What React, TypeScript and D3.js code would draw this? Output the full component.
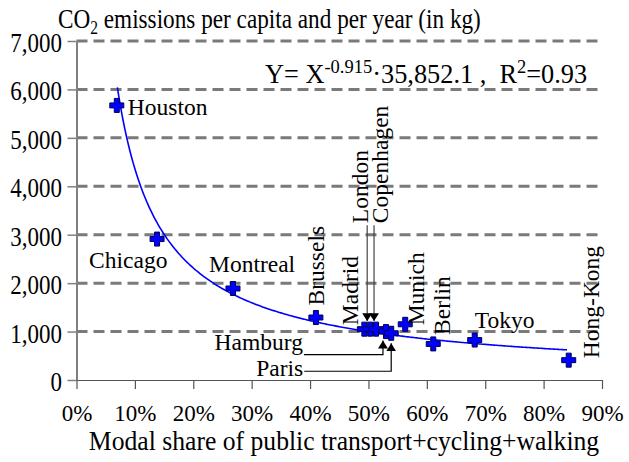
import { useEffect, useMemo, useRef } from "react";
import * as d3 from "d3";

const WIDTH = 629;
const HEIGHT = 462;
const MARGIN = { top: 41, right: 27, bottom: 82, left: 76.5 };
const FONT = "Liberation Serif";

// data
const cities = ["Houston", "Chicago", "Montreal", "Brussels", "Madrid", "London", "Copenhagen", "Hamburg", "Paris", "Munich", "Berlin", "Tokyo", "Hong-Kong"];
const modalShare = [6.9, 13.8, 26.8, 41, 49.3, 50.3, 51.3, 53, 53.9, 56.3, 61.1, 68.2, 84.3];
const emissions = [5670, 2910, 1890, 1290, 1050, 1050, 1050, 1000, 965, 1150, 745, 825, 410];

const yTicks = [0, 1000, 2000, 3000, 4000, 5000, 6000, 7000];
const xTicks = [0, 10, 20, 30, 40, 50, 60, 70, 80, 90];

// trend line given on the chart: Y = X^-0.915 * 35852.1
const FIT_COEF = 35852.1;
const FIT_EXP = -0.915;
const FIT_FROM = 7;
const FIT_TO = 84;

// where each label sits, relative to its point
type LabelPos = { dx: number; dy: number; rot?: boolean; anchor?: string };
const labelPos: Record<string, LabelPos> = {
    Houston: { dx: 11, dy: 10 },
    Chicago: { dx: -68, dy: 29 },
    Montreal: { dx: -24, dy: -16 },
    Brussels: { dx: 8, dy: -12, rot: true },
    Madrid: { dx: -6, dy: -4, rot: true },
    London: { dx: -2, dy: -106, rot: true },
    Copenhagen: { dx: 12, dy: -106, rot: true },
    Hamburg: { dx: -83, dy: 18, anchor: "end" },
    Paris: { dx: -88, dy: 43, anchor: "end" },
    Munich: { dx: 19, dy: 1, rot: true },
    Berlin: { dx: 17, dy: -9, rot: true },
    Tokyo: { dx: 0, dy: -12 },
    "Hong-Kong": { dx: 30, dy: -2, rot: true },
};

const crossPath = "M-7,-2.5h4.5v-4.5h5v4.5h4.5v5h-4.5v4.5h-5v-4.5h-4.5z";

const App = () => {
    const axesRef = useRef(null);
    const boundsWidth = WIDTH - MARGIN.left - MARGIN.right;
    const boundsHeight = HEIGHT - MARGIN.top - MARGIN.bottom;

    const xScale = useMemo(() => d3.scaleLinear().domain([0, 90]).range([0, boundsWidth]), [boundsWidth]);
    const yScale = useMemo(() => d3.scaleLinear().domain([0, 7000]).range([boundsHeight, 0]), [boundsHeight]);

    useEffect(() => {
        const svgElement = d3.select(axesRef.current);
        svgElement.selectAll("*").remove();

        const yAxis = svgElement
            .append("g")
            .call(d3.axisLeft(yScale).tickValues(yTicks).tickFormat(d3.format(",")).tickSize(9).tickSizeOuter(0));
        yAxis.attr("font-family", FONT);
        yAxis.select(".domain").attr("stroke", "#808080").attr("stroke-width", 2);
        yAxis.selectAll(".tick line").attr("stroke", "#808080").attr("stroke-width", 1.5);
        // the labels on the y axis are tall and narrow
        yAxis
            .selectAll("text")
            .attr("font-family", FONT)
            .attr("font-size", 28)
            .attr("fill", "#000")
            .attr("x", null)
            .attr("dy", null)
            .attr("transform", "translate(-14.5,10.5) scale(0.82,1)");

        const xAxis = svgElement
            .append("g")
            .attr("transform", "translate(0," + boundsHeight + ")")
            .call(d3.axisBottom(xScale).tickValues(xTicks).tickFormat((d) => d + "%").tickSize(9).tickSizeOuter(0));
        xAxis.attr("font-family", FONT);
        xAxis.select(".domain").attr("stroke", "#555").attr("stroke-width", 1.2);
        xAxis.selectAll(".tick line").attr("stroke", "#555").attr("stroke-width", 1.2);
        xAxis.selectAll("text").attr("font-family", FONT).attr("font-size", 23).attr("fill", "#000").attr("y", 40.5).attr("dy", 0);
    }, [xScale, yScale, boundsHeight]);

    const fitLine = d3
        .line<number>()
        .x((d) => xScale(d))
        .y((d) => yScale(FIT_COEF * Math.pow(d, FIT_EXP)));
    const fitXs = d3.range(FIT_FROM, FIT_TO + 0.001, 0.25);

    const pts = cities.map((c, i) => ({ name: c, x: xScale(modalShare[i]), y: yScale(emissions[i]) }));
    const byName = Object.fromEntries(pts.map((p) => [p.name, p]));

    const ham = byName["Hamburg"];
    const par = byName["Paris"];
    const lon = byName["London"];
    const cop = byName["Copenhagen"];

    return (
        <svg width={WIDTH} height={HEIGHT} style={{ position: "absolute", left: 0, top: 0, background: "white" }}>
            <defs>
                <marker id="arrow" viewBox="0 0 8 10" refX="8" refY="5" markerWidth="8" markerHeight="10" markerUnits="userSpaceOnUse" orient="auto">
                    <path d="M0,0L8,5L0,10z" fill="#000" />
                </marker>
            </defs>
            <text transform="translate(58,28) scale(0.86,1)" fontFamily={FONT} fontSize={27}>
                CO<tspan fontSize={18} dy={6}>2</tspan>
                <tspan dy={-6}> emissions per capita and per year (in kg)</tspan>
            </text>
            <g transform={`translate(${MARGIN.left},${MARGIN.top})`}>
                {yTicks.filter((t) => t > 0).map((t) => (
                    <line key={t} x1={0} x2={boundsWidth} y1={yScale(t)} y2={yScale(t)} stroke="#7a7a7a" strokeWidth={3} strokeDasharray="11,6" />
                ))}
                <text transform="translate(188.5,42) scale(0.975,1)" fontFamily={FONT} fontSize={27}>
                    Y= X<tspan fontSize={19} dy={-10}>-0.915</tspan>
                    <tspan dy={10}>{"·35,852.1 ,\u00a0 R"}</tspan>
                    <tspan fontSize={19} dy={-10}>2</tspan>
                    <tspan dy={10}>=0.93</tspan>
                </text>
                <path d={fitLine(fitXs) ?? ""} fill="none" stroke="#0000ff" strokeWidth={1.6} />
                {/* arrows from the crowded labels */}
                <line x1={lon.x - 3} x2={lon.x - 3} y1={lon.y - 104} y2={lon.y - 8} stroke="#444" strokeWidth={1.2} markerEnd="url(#arrow)" />
                <line x1={cop.x - 2} x2={cop.x - 2} y1={cop.y - 104} y2={cop.y - 8} stroke="#444" strokeWidth={1.2} markerEnd="url(#arrow)" />
                <polyline points={`${ham.x - 82},${ham.y + 23} ${ham.x - 3},${ham.y + 23} ${ham.x - 3},${ham.y + 9}`} fill="none" stroke="#000" strokeWidth={1.2} markerEnd="url(#arrow)" />
                <polyline points={`${par.x - 87},${par.y + 38} ${par.x},${par.y + 38} ${par.x},${par.y + 10}`} fill="none" stroke="#000" strokeWidth={1.2} markerEnd="url(#arrow)" />
                {pts.map((p) => (
                    <path key={p.name} d={crossPath} transform={`translate(${p.x},${p.y})`} fill="#0000ff" stroke="#000050" strokeWidth={1} />
                ))}
                {pts.map((p) => {
                    const l = labelPos[p.name];
                    const tx = p.x + l.dx;
                    const ty = p.y + l.dy;
                    return (
                        <text
                            key={"l" + p.name}
                            transform={l.rot ? `translate(${tx},${ty}) rotate(-90)` : `translate(${tx},${ty})`}
                            textAnchor={l.anchor ?? "start"}
                            fontFamily={FONT}
                            fontSize={23.5}
                        >
                            {p.name}
                        </text>
                    );
                })}
            </g>
            <g ref={axesRef} transform={`translate(${MARGIN.left},${MARGIN.top})`} />
            <text transform="translate(344,449.5) scale(0.95,1)" textAnchor="middle" fontFamily={FONT} fontSize={27}>
                Modal share of public transport+cycling+walking
            </text>
        </svg>
    );
};

export default App;
